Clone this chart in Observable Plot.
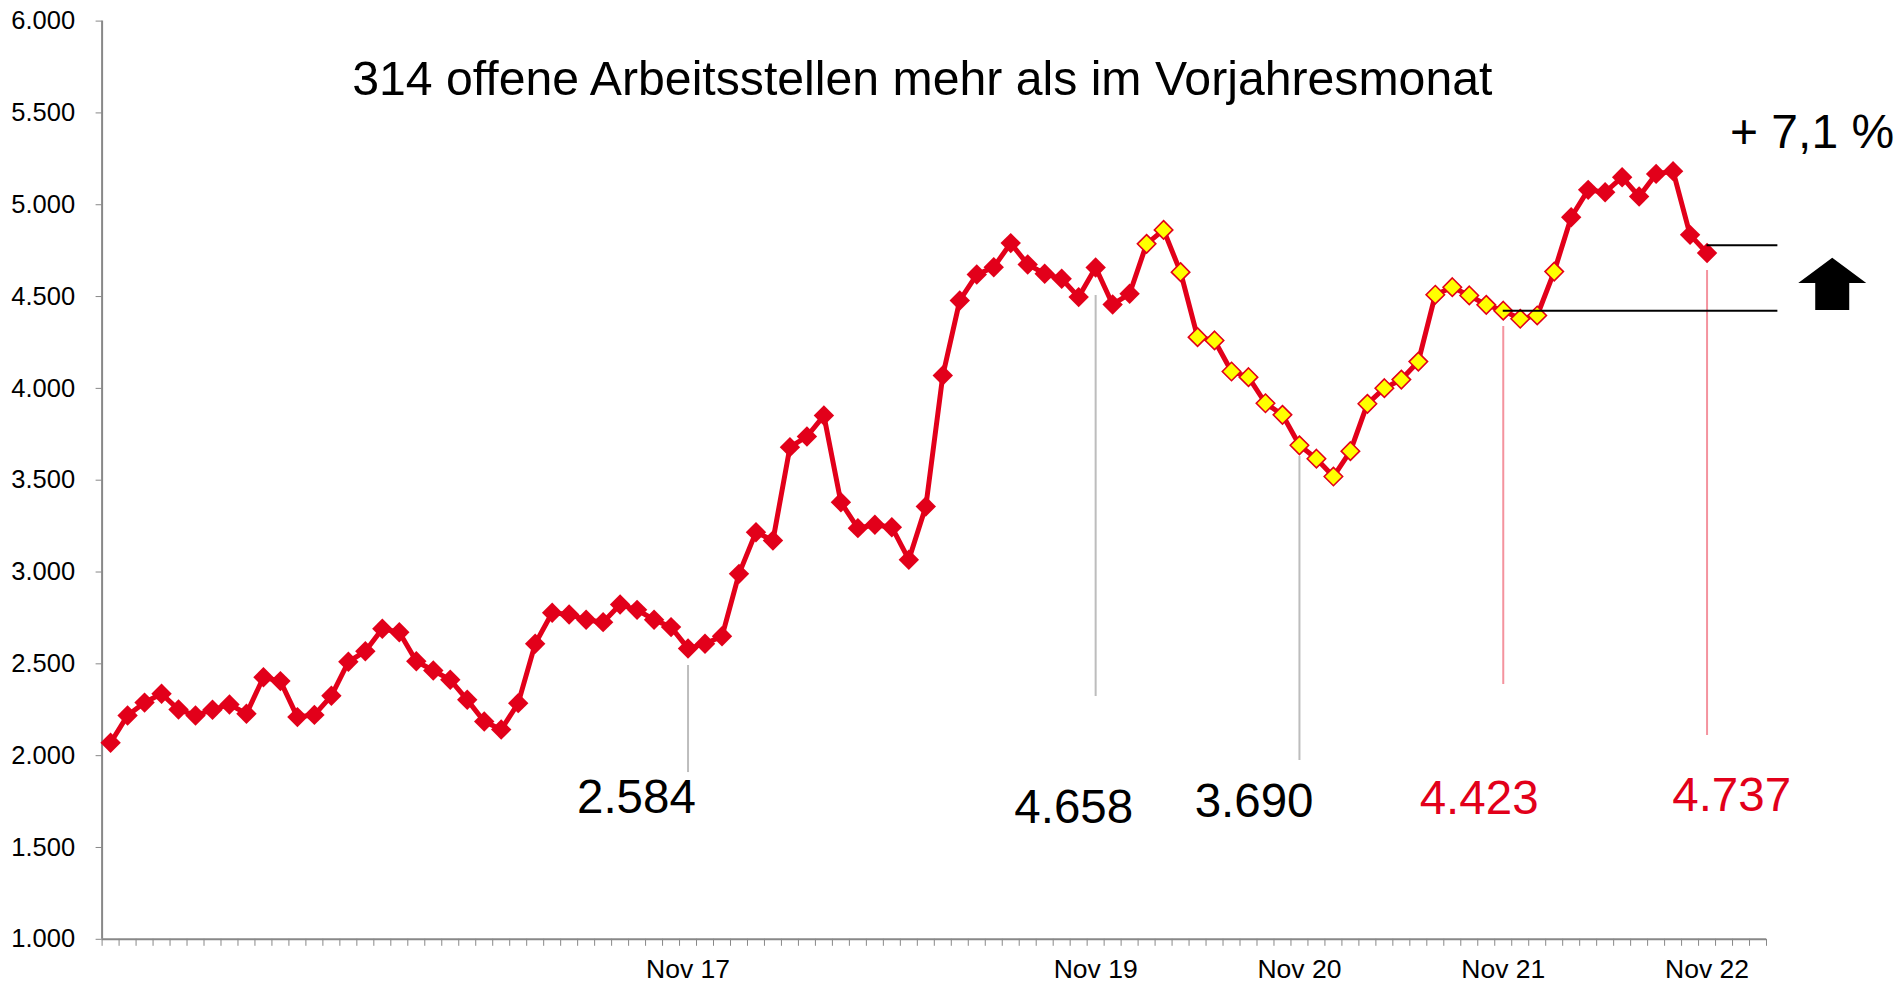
<!DOCTYPE html>
<html><head><meta charset="utf-8">
<script src="https://cdn.jsdelivr.net/npm/d3@7"></script>
<script src="https://cdn.jsdelivr.net/npm/@observablehq/plot@0.6"></script>
<style>
html,body{margin:0;padding:0;background:#fff;}
#chart{width:1897px;height:983px;overflow:hidden;}
</style></head><body><div id="chart"></div>
<script>
// ---- data (monthly open positions, Jan 2015 .. Nov 2022) ----
const values = [
  2070, 2219, 2289, 2337, 2251, 2219, 2250, 2279, 2228, 2427, 2406, 2210,
  2222, 2326, 2511, 2569, 2691, 2672, 2514, 2464, 2413, 2304, 2186, 2142,
  2286, 2609, 2778, 2769, 2740, 2727, 2823, 2794, 2740, 2700, 2584, 2609,
  2650, 2990, 3217, 3172, 3680, 3738, 3852, 3380, 3239, 3257, 3244, 3067,
  3357, 4070, 4479, 4620, 4660, 4791, 4675, 4624, 4597, 4497, 4658, 4457,
  4515, 4787, 4863, 4633, 4279, 4261, 4092, 4061, 3919, 3856, 3690, 3617,
  3520, 3658, 3916, 4001, 4048, 4146, 4510, 4551, 4506, 4455, 4423, 4379,
  4397, 4636, 4932, 5081, 5068, 5150, 5045, 5168, 5183, 4836, 4737
];
const categoryStart = new Date(2015, 0, 1);
const categoryEnd = new Date(2023, 2, 1);      // axis runs through Feb 23
const xTickLabels = ["Nov 17", "Nov 19", "Nov 20", "Nov 21", "Nov 22"];
const yTicks = [1000, 1500, 2000, 2500, 3000, 3500, 4000, 4500, 5000, 5500, 6000];
const yellowFrom = "Feb 20";
const yellowTo = "Feb 22";
const title = "314 offene Arbeitsstellen mehr als im Vorjahresmonat";
const changeText = "+ 7,1 %";

// callouts
const calloutMonths = ["Nov 17", "Nov 19", "Nov 20", "Nov 21", "Nov 22"];
const calloutIsCurrent = [false, false, false, true, true];
const calloutLineTop = [2491, 4506, 3629, 4337, 4642];
const calloutLineBottom = [1908, 2322, 1974, 2387, 2110];
const calloutLabelX = [30.96, 56.71, 67.33, 80.58, 95.45];
const calloutLabelY = [1687, 1632, 1665, 1685, 1698];
const compareMonths = ["Nov 21", "Nov 22"];
const compareLevels = [4423, 4780];
const compareEndX = 98.17;
const arrowX = 101.4, arrowTop = 4709, arrowNeck = 4571, arrowBottom = 4424;

// ---- build ----
const RED = "#e2001a";
const months = d3.timeMonth.range(categoryStart, categoryEnd).map(d3.timeFormat("%b %y"));
const yIdxFrom = months.indexOf(yellowFrom), yIdxTo = months.indexOf(yellowTo);
const rows = values.map((v, i) => ({i, month: months[i], value: v, yellow: i >= yIdxFrom && i <= yIdxTo}));
const de = d3.formatLocale({decimal: ",", thousands: ".", grouping: [3], currency: ["", " €"]});
const fmt = de.format(",d");
const n = months.length;
const boundaries = d3.range(n + 1).map(k => k - 0.5);
const tickIdx = xTickLabels.map(l => months.indexOf(l));

const callouts = calloutMonths.map((m, k) => {
  const i = months.indexOf(m);
  return {i, top: calloutLineTop[k], bottom: calloutLineBottom[k], lx: calloutLabelX[k], ly: calloutLabelY[k],
          text: fmt(values[i]), current: calloutIsCurrent[k]};
});
const compares = compareMonths.map((m, k) => ({x1: months.indexOf(m), x2: compareEndX, y: compareLevels[k]}));

const arrowMark = (index, scales, vals, dims, context) => {
  const cx = scales.x(arrowX), t = scales.y(arrowTop), nk = scales.y(arrowNeck), b = scales.y(arrowBottom);
  const hw = 34, sw = 17;
  const p = context.document.createElementNS("http://www.w3.org/2000/svg", "path");
  p.setAttribute("d", `M${cx},${t}L${cx + hw},${nk}L${cx + sw},${nk}L${cx + sw},${b}L${cx - sw},${b}L${cx - sw},${nk}L${cx - hw},${nk}Z`);
  p.setAttribute("fill", "black");
  return p;
};

const chart = Plot.plot({
  width: 1897, height: 983,
  marginTop: 20.6, marginBottom: 44.2, marginLeft: 101.6, marginRight: 131,
  x: {type: "linear", domain: [-0.5, n - 0.5], label: null},
  y: {domain: [1000, 6000], label: null},
  style: {fontFamily: "'Liberation Sans', Arial, sans-serif", background: "white", overflow: "visible", color: "black"},
  marks: [
    Plot.axisY({ticks: yTicks, tickSize: 6, tickPadding: 21, tickFormat: fmt, fontSize: 25.5, stroke: "#888", label: null}),
    Plot.axisX({ticks: boundaries, tickSize: 7, tickFormat: () => "", stroke: "#888", label: null}),
    Plot.axisX({ticks: tickIdx, tickSize: 0, tickPadding: 20, tickFormat: i => months[i], fontSize: 26.5, label: null}),
    Plot.ruleY([1000], {stroke: "#888", strokeWidth: 2}),
    Plot.ruleX([-0.5], {stroke: "#888", strokeWidth: 2}),
    Plot.ruleX(callouts, {x: "i", y1: "top", y2: "bottom", stroke: d => d.current ? "#f4939e" : "#bdbdbd", strokeWidth: 2}),
    Plot.line(rows, {x: "i", y: "value", stroke: RED, strokeWidth: 5, strokeLinejoin: "round"}),
    Plot.dot(rows.filter(d => !d.yellow), {x: "i", y: "value", symbol: "diamond2", r: 9.2, fill: RED, stroke: "none"}),
    Plot.dot(rows.filter(d => d.yellow), {x: "i", y: "value", symbol: "diamond2", r: 8.3, fill: "#ffff00", stroke: RED, strokeWidth: 1.6}),
    Plot.ruleY(compares, {x1: "x1", x2: "x2", y: "y", stroke: "black", strokeWidth: 2}),
    Plot.text(callouts, {x: "lx", y: "ly", text: "text", fill: d => d.current ? RED : "black", fontSize: 47.5, lineAnchor: "bottom", textAnchor: "middle"}),
    Plot.text([title], {text: d => d, frameAnchor: "top", dx: -12, dy: 73.8, lineAnchor: "bottom", fontSize: 48.2, fill: "black"}),
    Plot.text([changeText], {text: d => d, x: 95.35, y: 5310, textAnchor: "start", lineAnchor: "bottom", fontSize: 48, fill: "black"}),
    arrowMark
  ]
});
document.getElementById("chart").appendChild(chart);
</script></body></html>
